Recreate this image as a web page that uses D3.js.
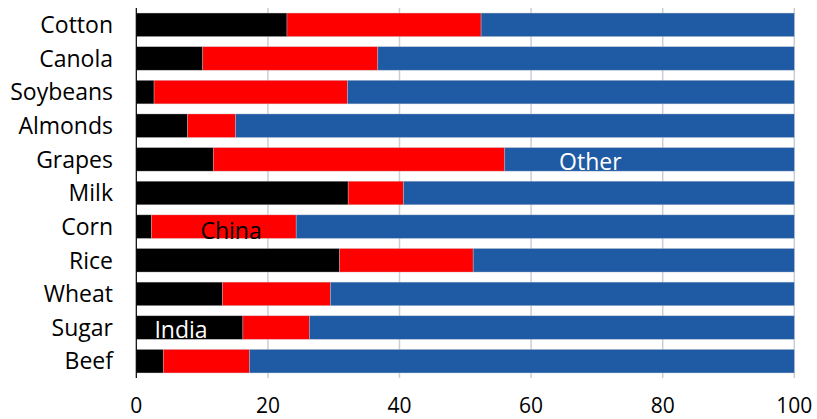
<!DOCTYPE html>
<html><head><meta charset="utf-8">
<script src="https://cdn.jsdelivr.net/npm/d3@7"></script>
<style>
html,body{margin:0;padding:0;background:#fff;}
svg{display:block;font-family:"Open Sans",sans-serif;}
</style></head>
<body><svg id="chart" width="817" height="419"></svg>
<script>
const categories = ["Cotton","Canola","Soybeans","Almonds","Grapes","Milk","Corn","Rice","Wheat","Sugar","Beef"];
const india = [22.9,10.1,2.7,7.8,11.7,32.2,2.3,30.9,13.1,16.2,4.1];
const china = [29.5,26.6,29.4,7.3,44.3,8.4,22.0,20.3,16.4,10.1,13.1];
const other = india.map((d,i)=>+(100-d-china[i]).toFixed(1));
const seriesNames = ["India","China","Other"];
const seriesColors = ["#000000","#ff0000","#1f5ba5"];
const xTicks = [0,20,40,60,80,100];

const svg = d3.select("#chart");
const x = d3.scaleLinear().domain([0,100]).range([136.3,794.3]);
const y = d3.scaleBand().domain(categories).range([8,378]).paddingInner(0.3).paddingOuter(0.15);

const rows = categories.map((c,i)=>({cat:c, India:india[i], China:china[i], Other:other[i]}));
const stacked = d3.stack().keys(seriesNames)(rows);

// gridlines
svg.append("g").selectAll("line").data(xTicks.slice(1)).join("line")
  .attr("x1",d=>x(d)).attr("x2",d=>x(d)).attr("y1",8).attr("y2",378)
  .attr("stroke","#c9ced6").attr("stroke-width",1.5);

// bars
svg.append("g").selectAll("g").data(stacked).join("g")
  .attr("fill",(d,i)=>seriesColors[i])
  .selectAll("rect").data(d=>d).join("rect")
  .attr("x",d=>x(d[0])).attr("width",d=>x(d[1])-x(d[0]))
  .attr("y",d=>y(d.data.cat)).attr("height",y.bandwidth())
  .attr("stroke","rgba(200,200,210,0.6)").attr("stroke-width",0.6);

// y axis line
svg.append("line").attr("x1",136.3).attr("x2",136.3).attr("y1",8).attr("y2",378)
  .attr("stroke","#000").attr("stroke-width",1.2);

// category labels
svg.append("g").selectAll("text").data(categories).join("text")
  .attr("x",113).attr("y",d=>y(d)+y.bandwidth()/2).attr("dy","0.36em")
  .attr("text-anchor","end").attr("font-size",23).attr("fill","#000").text(d=>d);

// x tick labels
svg.append("g").selectAll("text").data(xTicks).join("text")
  .attr("x",d=>x(d)).attr("y",413).attr("text-anchor","middle")
  .attr("font-size",21).attr("fill","#000").text(d=>d);

// series annotations
const annos = [
  {text:"India", cat:"Sugar", v:6.8, color:"#fff"},
  {text:"China", cat:"Corn", v:14.4, color:"#000"},
  {text:"Other", cat:"Grapes", v:69.0, color:"#fff"}
];
svg.append("g").selectAll("text").data(annos).join("text")
  .attr("x",d=>x(d.v)).attr("y",d=>y(d.cat)+y.bandwidth()-1.5+(d.cat==="Corn"?2:0))
  .attr("text-anchor","middle").attr("font-size",23).attr("fill",d=>d.color).text(d=>d.text);
</script></body></html>
